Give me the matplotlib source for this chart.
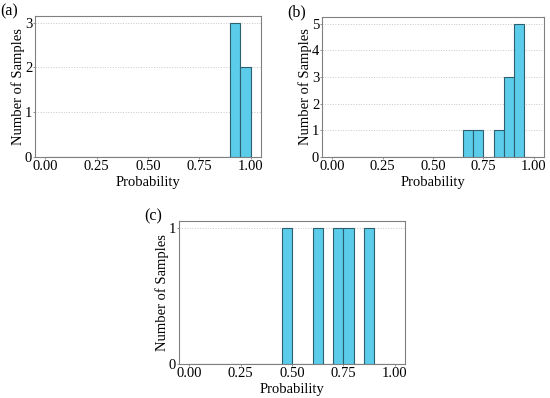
import numpy as np
import matplotlib
matplotlib.use('Agg')
import matplotlib.pyplot as plt

plt.rcParams['font.family'] = ['Liberation Serif', 'DejaVu Serif']

# histogram bin edges (width 0.05 from 0 to 1)
bin_edges = np.round(np.linspace(0.0, 1.0, 21), 2)

# counts per bin (bin left edge -> count)
probs_a = [0.90, 0.95]
counts_a = [3, 2]
probs_b = [0.65, 0.70, 0.80, 0.85, 0.90]
counts_b = [1, 1, 1, 3, 5]
probs_c = [0.45, 0.60, 0.70, 0.75, 0.85]
counts_c = [1, 1, 1, 1, 1]

xticks = [0.0, 0.25, 0.5, 0.75, 1.0]
xticklabels = ['0.00', '0.25', '0.50', '0.75', '1.00']

bar_color = '#5BCCEA'
edge_color = '#2E5F6E'

fig = plt.figure(figsize=(5.5, 3.98), dpi=100)
W, H = 550.0, 398.0
# axes boxes in pixels: left, top, right, bottom
boxes = [(35, 16, 261, 157), (322, 17, 544, 157), (179, 221, 405, 364)]
panels = [('(a)', probs_a, counts_a), ('(b)', probs_b, counts_b), ('(c)', probs_c, counts_c)]

for (l, t, r, b), (tag, probs, counts) in zip(boxes, panels):
    ax = fig.add_axes([l / W, 1 - b / H, (r - l) / W, (b - t) / H])
    # centres of bins, weighted by count -> same histogram
    centres = np.array(probs) + 0.025
    ax.hist(centres, bins=bin_edges, weights=counts, color=bar_color,
            edgecolor=edge_color, linewidth=0.8, zorder=3)
    ymax = max(counts)
    ax.set_xlim(-0.05, 1.05)
    ax.set_ylim(0, ymax * 1.05)
    ax.set_yticks(range(0, ymax + 1))
    ax.set_xticks(xticks)
    ax.set_xticklabels(xticklabels)
    ax.yaxis.grid(True, linestyle=':', color='#c8c8c8', linewidth=0.7, zorder=0)
    for s in ax.spines.values():
        s.set_color('#808080')
        s.set_linewidth(0.8)
    ax.tick_params(labelsize=10.5, length=1.5, width=0.6, color='#808080', pad=0.5)
    ax.set_xlabel('Probability', fontsize=10.5, labelpad=2)
    ax.set_ylabel('Number of Samples', fontsize=10.5, labelpad=0)
    fig.text((l - 35) / W, 1 - (t - 5) / H, tag, fontsize=11.5, va='center', ha='left')

fig.savefig('out.png', dpi=100)
